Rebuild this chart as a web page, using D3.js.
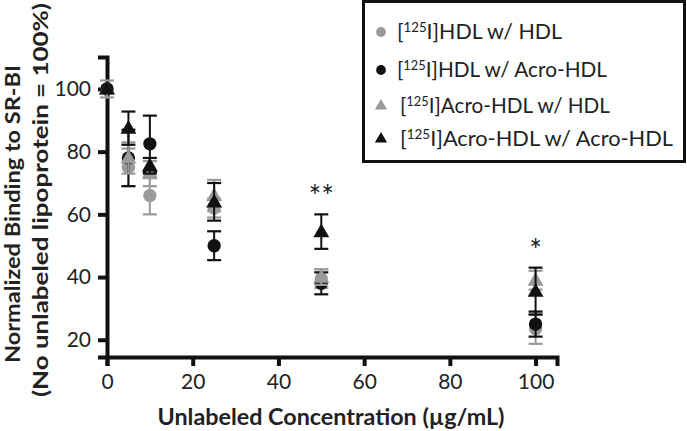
<!DOCTYPE html>
<html>
<head>
<meta charset="utf-8">
<script src="https://cdn.jsdelivr.net/npm/d3@7"></script>
<style>
  body { margin: 0; background: #fff; }
  svg { display: block; font-family: Lato, "Open Sans", sans-serif; }
</style>
</head>
<body>
<svg id="chart" width="687" height="431"></svg>
<script>
const conc = [0, 5, 10, 25, 50, 100];
// [value, error] per concentration
const hdlHdl = [[100, 0], [75, 6], [66, 6], [62, 3], [39.5, 3], [23.5, 4.8]];
const hdlAcro = [[100, 0], [78, 9], [82.5, 9], [50, 4.6], [38, 3.5], [25, 4]];
const acroHdl = [[100, 2.7], [78, 5], [73, 4], [66, 5], [40, 2.5], [39, 3]];
const acroAcro = [[100, 0], [87.5, 5.3], [75.5, 2.5], [64, 6], [54.5, 5.5], [35.5, 7.5]];
const seriesNames = ["HDL w/ HDL", "HDL w/ Acro-HDL", "Acro-HDL w/ HDL", "Acro-HDL w/ Acro-HDL"];
const xTicks = [0, 20, 40, 60, 80, 100];
const yTicks = [20, 40, 60, 80, 100];
const stars = [[50, "**"], [100, "*"]];

const grey = "#9a9a9a", black = "#111";
const series = [
  { name: seriesNames[0], data: hdlHdl, color: grey, shape: "circle" },
  { name: seriesNames[1], data: hdlAcro, color: black, shape: "circle" },
  { name: seriesNames[2], data: acroHdl, color: grey, shape: "triangle" },
  { name: seriesNames[3], data: acroAcro, color: black, shape: "triangle" }
];

const svg = d3.select("#chart");
const x = d3.scaleLinear().domain([0, 105]).range([107, 557]);
const y = d3.scaleLinear().domain([14.5, 110.2]).range([357, 57]);

const circleSym = d3.symbol().type(d3.symbolCircle).size(140);
const triSym = d3.symbol().type(d3.symbolTriangle).size(110);

// axes
const xAxis = svg.append("g").attr("transform", "translate(0,357)")
  .call(d3.axisBottom(x).tickValues(xTicks).tickSizeOuter(0).tickSize(9).tickPadding(8));
const yAxis = svg.append("g").attr("transform", "translate(107,0)")
  .call(d3.axisLeft(y).tickValues(yTicks).tickSizeOuter(0).tickSize(9).tickPadding(7));
[xAxis, yAxis].forEach(a => {
  a.select(".domain").attr("stroke", "#111").attr("stroke-width", 4);
  a.selectAll(".tick line").attr("stroke", "#111").attr("stroke-width", 4);
  a.selectAll(".tick text").attr("fill", "#222").style("font-size", "21px").style("font-family", "Lato, sans-serif");
});

// points with error bars
series.forEach(s => {
  const g = svg.append("g");
  s.data.forEach((d, i) => {
    const cx = x(conc[i]), v = d[0], e = d[1];
    if (e > 0) {
      g.append("line").attr("x1", cx).attr("x2", cx).attr("y1", y(v - e)).attr("y2", y(v + e))
        .attr("stroke", s.color).attr("stroke-width", 2);
      [v - e, v + e].forEach(t => {
        g.append("line").attr("x1", cx - 7).attr("x2", cx + 7).attr("y1", y(t)).attr("y2", y(t))
          .attr("stroke", s.color).attr("stroke-width", 2.2);
      });
    }
    g.append("path")
      .attr("d", s.shape === "circle" ? circleSym() : triSym())
      .attr("transform", `translate(${cx},${y(v) + (s.shape === "triangle" ? 1 : 0)})`)
      .attr("fill", s.color);
  });
});

// significance marks
svg.selectAll("text.star").data(stars).enter().append("text")
  .attr("class", "star")
  .attr("x", d => x(d[0])).attr("y", (d, i) => i === 0 ? 207 : 261)
  .attr("text-anchor", "middle").style("font-size", "30px").attr("fill", "#222")
  .text(d => d[1]);

// axis titles
svg.append("text").attr("x", 331).attr("y", 425).attr("text-anchor", "middle")
  .attr("textLength", 347).attr("lengthAdjust", "spacingAndGlyphs")
  .style("font-size", "22px").style("font-weight", "bold").attr("fill", "#222")
  .text("Unlabeled Concentration (\u00b5g/mL)");
svg.append("text").attr("transform", "translate(20,214) rotate(-90)").attr("text-anchor", "middle")
  .attr("textLength", 298).attr("lengthAdjust", "spacingAndGlyphs")
  .style("font-size", "20px").style("font-weight", "bold").attr("fill", "#222")
  .text("Normalized Binding to SR-BI");
svg.append("text").attr("transform", "translate(48,200) rotate(-90)").attr("text-anchor", "middle")
  .attr("textLength", 394).attr("lengthAdjust", "spacingAndGlyphs")
  .style("font-size", "20px").style("font-weight", "bold").attr("fill", "#222")
  .text("(No unlabeled lipoprotein = 100%)");

// legend
const lg = svg.append("g");
lg.append("rect").attr("x", 363.5).attr("y", 1.5).attr("width", 321).attr("height", 160)
  .attr("fill", "#fff").attr("stroke", "#111").attr("stroke-width", 3);
const rowY = [32, 70, 106, 139];
const rowLen = [165, 210, 210, 273];
series.forEach((s, i) => {
  lg.append("path")
    .attr("d", s.shape === "circle" ? d3.symbol().type(d3.symbolCircle).size(75)() : d3.symbol().type(d3.symbolTriangle).size(65)())
    .attr("transform", `translate(381,${rowY[i]})`).attr("fill", s.color);
  const t = lg.append("text").attr("x", i < 2 ? 397 : 400).attr("y", rowY[i] + 7)
    .attr("textLength", rowLen[i]).attr("lengthAdjust", "spacingAndGlyphs")
    .style("font-size", "21px").attr("fill", "#222");
  t.append("tspan").text("[");
  t.append("tspan").attr("dy", -7).style("font-size", "13px").text("125");
  t.append("tspan").attr("dy", 7).text("I]" + s.name);
});
</script>
</body>
</html>
